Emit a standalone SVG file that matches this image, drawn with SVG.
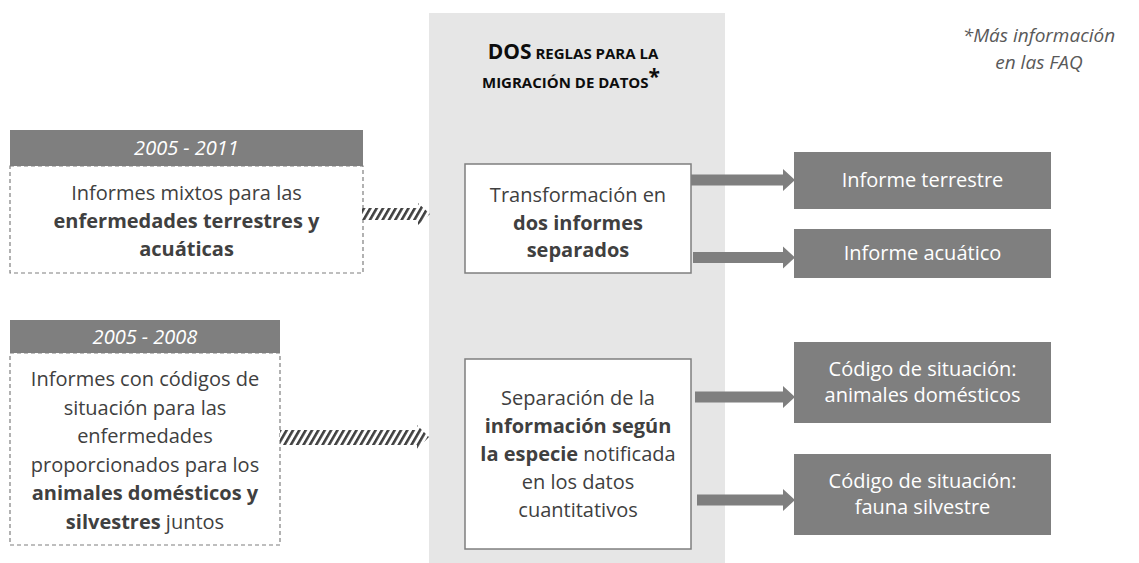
<svg xmlns="http://www.w3.org/2000/svg" width="1139" height="563" viewBox="0 0 1139 563">
<style>
.t{font-family:"Open Sans","Liberation Sans",sans-serif;font-size:20px;fill:#404040;text-anchor:middle}
.b{font-weight:bold}
.w{fill:#ffffff}
.i{font-style:italic}
.hdr{fill:#7f7f7f}
.dash{fill:#ffffff;stroke:#7f7f7f;stroke-width:1.2;stroke-dasharray:4 3}
.mid{fill:#ffffff;stroke:#7f7f7f;stroke-width:1.5}
.arr{fill:#7f7f7f}
.hat{fill:url(#hatch)}
</style>
<defs>
<pattern id="hatch" width="5.5" height="5.5" patternUnits="userSpaceOnUse" patternTransform="rotate(30)">
<rect width="5.5" height="5.5" fill="#ffffff"/>
<rect width="2.6" height="5.5" fill="#404040"/>
</pattern>
</defs>
<rect id="panel" x="429" y="13" width="296" height="550" fill="#e6e6e6"/>
<g id="title">
<text class="t b" x="573" y="59" style="fill:#0d0d0d"><tspan font-size="21">DOS</tspan><tspan font-size="15"> REGLAS PARA LA</tspan></text>
<text class="t b" x="571" y="88" style="fill:#0d0d0d"><tspan font-size="15">MIGRACIÓN DE DATOS</tspan><tspan font-size="21" dy="-4">*</tspan></text>
</g>
<g id="note">
<text class="t i" x="1039" y="42" style="fill:#595959;font-size:19px">*Más información</text>
<text class="t i" x="1039" y="69" style="fill:#595959;font-size:19px">en las FAQ</text>
</g>
<g id="src1">
<rect class="hdr" x="10" y="130" width="353" height="36"/>
<text class="t i w" x="186.5" y="155">2005 - 2011</text>
<rect class="dash" x="10" y="166" width="353" height="107"/>
<text class="t" x="186.5" y="200">Informes mixtos para las</text>
<text class="t b" x="186.5" y="228">enfermedades terrestres y</text>
<text class="t b" x="186.5" y="256">acuáticas</text>
</g>
<g id="src2">
<rect class="hdr" x="10" y="320" width="270" height="33"/>
<text class="t i w" x="145" y="344">2005 - 2008</text>
<rect class="dash" x="10" y="353" width="270" height="192"/>
<text class="t" x="145" y="386">Informes con códigos de</text>
<text class="t" x="145" y="415">situación para las</text>
<text class="t" x="145" y="443">enfermedades</text>
<text class="t" x="145" y="472">proporcionados para los</text>
<text class="t b" x="145" y="500">animales domésticos y</text>
<text class="t" x="145" y="529"><tspan class="b">silvestres</tspan> juntos</text>
</g>
<g id="rule1">
<rect class="mid" x="465" y="164" width="226" height="109"/>
<text class="t" x="578" y="202">Transformación en</text>
<text class="t b" x="578" y="230">dos informes</text>
<text class="t b" x="578" y="257">separados</text>
</g>
<g id="rule2">
<rect class="mid" x="465" y="359" width="226" height="190"/>
<text class="t" x="578" y="405">Separación de la</text>
<text class="t b" x="578" y="433">información según</text>
<text class="t" x="578" y="461"><tspan class="b">la especie</tspan> notificada</text>
<text class="t" x="578" y="489">en los datos</text>
<text class="t" x="578" y="517">cuantitativos</text>
</g>
<g id="out1">
<rect class="hdr" x="794" y="152" width="257" height="57"/>
<text class="t w" x="922.5" y="187">Informe terrestre</text>
</g>
<g id="out2">
<rect class="hdr" x="794" y="229" width="257" height="49"/>
<text class="t w" x="922.5" y="260">Informe acuático</text>
</g>
<g id="out3">
<rect class="hdr" x="794" y="342" width="257" height="81"/>
<text class="t w" x="922.5" y="376">Código de situación:</text>
<text class="t w" x="922.5" y="402">animales domésticos</text>
</g>
<g id="out4">
<rect class="hdr" x="794" y="454" width="257" height="81"/>
<text class="t w" x="922.5" y="488">Código de situación:</text>
<text class="t w" x="922.5" y="514">fauna silvestre</text>
</g>
<g id="connectors">
<polygon class="hat" points="362,208 418,208 418,203 430,214 418,225 418,220 362,220"/>
<polygon class="hat" points="280,430 417,430 417,425 429,437 417,449 417,445 280,445"/>
<polygon class="arr" points="691,174.5 783,174.5 783,169 795,180 783,191 783,185.5 691,185.5"/>
<polygon class="arr" points="693,252 783,252 783,246.5 795,257.5 783,268.5 783,263 693,263"/>
<polygon class="arr" points="695,391.5 783,391.5 783,386 795,397 783,408 783,402.5 695,402.5"/>
<polygon class="arr" points="697,494.5 783,494.5 783,489 795,500 783,511 783,505.5 697,505.5"/>
</g>
</svg>
